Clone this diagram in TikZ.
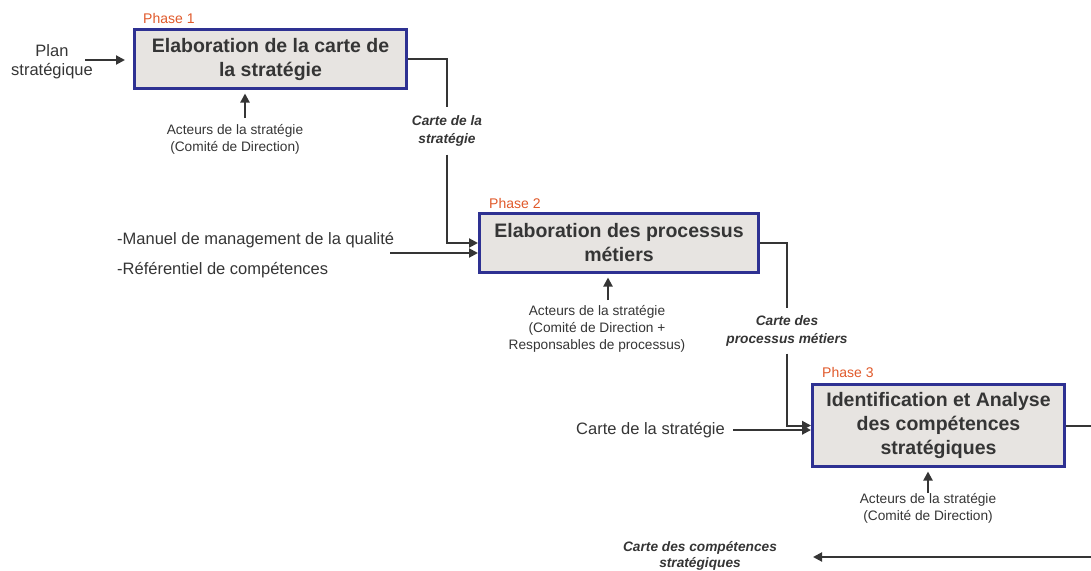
\documentclass[tikz,border=0pt]{standalone}
\usepackage{fontspec}
\setmainfont{Liberation Sans}
\usetikzlibrary{arrows.meta}
\definecolor{boxblue}{HTML}{2E3192}
\definecolor{boxfill}{HTML}{E7E4E1}
\definecolor{phasecol}{HTML}{E0592A}
\definecolor{txt}{HTML}{353535}
\tikzset{
  phasebox/.style={draw=boxblue, line width=3pt, fill=boxfill, text=txt,
    font=\fontsize{19.5}{24}\selectfont\bfseries, align=center, inner sep=0pt},
  conn/.style={draw=txt, line width=2pt},
  arr/.style={conn, -{Triangle[length=9pt,width=9pt]}},
  smalltxt/.style={text=txt, font=\fontsize{13.7}{17}\selectfont, align=center, inner sep=0pt},
  midtxt/.style={text=txt, font=\fontsize{16.5}{19.5}\selectfont, align=center, inner sep=0pt},
  flowlabel/.style={text=txt, font=\fontsize{13.7}{18}\selectfont\bfseries\itshape, align=center, inner xsep=0pt, inner ysep=8pt},
  phaselabel/.style={text=phasecol, font=\fontsize{14}{16}\selectfont, anchor=west, inner sep=0pt},
}
\begin{document}
\begin{tikzpicture}[x=1pt,y=-1pt]
\useasboundingbox (0,0) rectangle (1091,570);
\clip (0,0) rectangle (1091,570);

% boxes
\node[phasebox, minimum width=272pt, minimum height=59pt] (b1) at (270.5,59) {Elaboration de la carte de\\la stratégie};
\node[phasebox, minimum width=279pt, minimum height=59pt] (b2) at (619,243) {Elaboration des processus\\métiers};
\node[phasebox, minimum width=252pt, minimum height=82pt] (b3) at (938.5,425.5) {Identification et Analyse\\des compétences\\stratégiques};

% phase labels
\node[phaselabel] (ph1) at (143,18) {Phase 1};
\node[phaselabel] (ph2) at (489,203) {Phase 2};
\node[phaselabel] (ph3) at (822,372) {Phase 3};

% inputs phase 1
\node[midtxt] (plan) at (52,61.5) {Plan\\stratégique};
\coordinate (p1) at (85,60);
\draw[arr, shorten >=8pt] (p1) -- (p1 -| b1.west);

\node[smalltxt] (a1) at (235,139) {Acteurs de la stratégie\\(Comité de Direction)};
\coordinate (u1) at (245,118);
\draw[arr, shorten >=3.5pt] (u1) -- (u1 |- b1.south);

% phase 1 -> phase 2
\node[flowlabel] (l1) at (447,131) {Carte de la\\stratégie};
\draw[conn] (b1.east) -| (l1.north);
\draw[arr] (l1.south) |- (b2.west);

% inputs phase 2
\node[midtxt, anchor=west] (m1) at (117,240) {-Manuel de management de la qualité};
\node[midtxt, anchor=west] (m2) at (117,270) {-Référentiel de compétences};
\coordinate (mi) at (390,253);
\draw[arr] (mi) -- (mi -| b2.west);

\node[smalltxt] (a2) at (597,328.5) {Acteurs de la stratégie\\(Comité de Direction +\\Responsables de processus)};
\coordinate (u2) at (608,300);
\draw[arr, shorten >=3.5pt] (u2) -- (u2 |- b2.south);

% phase 2 -> phase 3
\node[flowlabel, inner ysep=7pt] (l2) at (787,331) {Carte des\\processus métiers};
\draw[conn] (b2.east) -| (l2.north);
\draw[arr] (l2.south) |- (b3.west);

% inputs phase 3
\node[midtxt, anchor=east] (s3) at (725,430) {Carte de la stratégie};
\coordinate (si) at (733,430);
\draw[arr] (si) -- (si -| b3.west);

\node[smalltxt] (a3) at (928,508.5) {Acteurs de la stratégie\\(Comité de Direction)};
\coordinate (u3) at (928,493);
\draw[arr, shorten >=3.5pt] (u3) -- (u3 |- b3.south);

% phase 3 output
\coordinate (r1) at (1100,557);
\coordinate (r2) at (813,557);
\draw[arr] (b3.east) -| (r1) -- (r2);
\node[flowlabel, font=\fontsize{13.7}{16.5}\selectfont\bfseries\itshape, inner sep=0pt] (l3) at (700,556) {Carte des compétences\\stratégiques};
\end{tikzpicture}
\end{document}
